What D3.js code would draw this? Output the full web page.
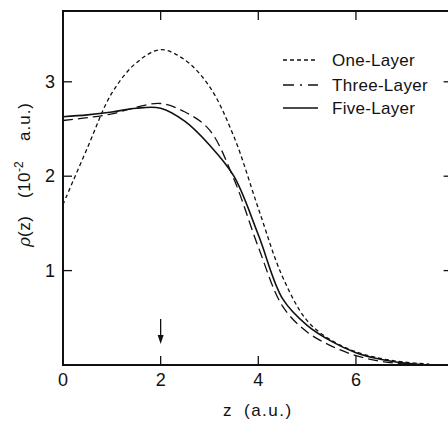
<!DOCTYPE html>
<html>
<head>
<meta charset="utf-8">
<script src="https://cdn.jsdelivr.net/npm/d3@7"></script>
<style>
  body { margin: 0; background: #fff; }
  text { font-family: "Liberation Sans", Arial, sans-serif; fill: #111; }
</style>
</head>
<body>
<svg></svg>
<script>
// values (z in a.u., rho in 1e-2 a.u.)
const zValues = [0, 0.5, 1, 1.5, 2, 2.5, 3, 3.5, 4, 4.5, 5, 5.5, 6, 6.5, 7, 7.5];
const oneLayer   = [1.70, 2.30, 2.88, 3.20, 3.34, 3.23, 2.95, 2.42, 1.66, 0.93, 0.47, 0.26, 0.14, 0.07, 0.03, 0.01];
const threeLayer = [2.59, 2.62, 2.66, 2.73, 2.77, 2.68, 2.49, 1.97, 1.25, 0.62, 0.35, 0.20, 0.10, 0.04, 0.01, 0.00];
const fiveLayer  = [2.63, 2.65, 2.68, 2.72, 2.72, 2.58, 2.33, 2.00, 1.38, 0.70, 0.42, 0.25, 0.13, 0.06, 0.02, 0.00];
const seriesNames = ["One-Layer", "Three-Layer", "Five-Layer"];
const xTicks = [0, 2, 4, 6];
const yTicks = [1, 2, 3];
const arrowZ = 2;

const width = 448, height = 422;
const svg = d3.select("svg").attr("width", width).attr("height", height);

const x = d3.scaleLinear().domain([0, 8]).range([63, 453.6]);
const y = d3.scaleLinear().domain([0, 3.75]).range([365, 11]);

const dashes = ["4,3", "11,6,2,6", null];
const series = [oneLayer, threeLayer, fiveLayer].map((vals, i) => ({
    name: seriesNames[i],
    dash: dashes[i],
    points: zValues.map((z, j) => [z, vals[j]])
}));

const line = d3.line()
    .x(d => x(d[0]))
    .y(d => y(d[1]))
    .curve(d3.curveCatmullRom);

// curves
svg.selectAll("path.curve")
    .data(series)
    .enter()
    .append("path")
    .attr("class", "curve")
    .attr("d", d => line(d.points))
    .attr("fill", "none")
    .attr("stroke", "#111")
    .attr("stroke-width", d => d.dash ? 1.3 : 1.6)
    .attr("stroke-dasharray", (d, i) => i === 1 ? "10,5" : d.dash);

// frame with inward ticks
const frame = svg.append("g")
    .attr("stroke", "#111")
    .attr("stroke-width", 2)
    .attr("fill", "none");

frame.append("path")
    .attr("d", `M${x(8)},${y(0)} H${x(0)} V${y(3.75)} H${x(8)} V${y(0)}`);

const tickLen = 9;
xTicks.filter(t => t > 0).forEach(t => {
    frame.append("line")
        .attr("x1", x(t)).attr("x2", x(t))
        .attr("y1", y(0)).attr("y2", y(0) - tickLen)
        .attr("stroke-width", 1.3);
    frame.append("line")
        .attr("x1", x(t)).attr("x2", x(t))
        .attr("y1", y(3.75)).attr("y2", y(3.75) + tickLen)
        .attr("stroke-width", 1.3);
});
yTicks.forEach(t => {
    frame.append("line")
        .attr("x1", x(0)).attr("x2", x(0) + tickLen)
        .attr("y1", y(t)).attr("y2", y(t))
        .attr("stroke-width", 1.3);
    frame.append("line")
        .attr("x1", x(8)).attr("x2", x(8) - tickLen - 1)
        .attr("y1", y(t)).attr("y2", y(t))
        .attr("stroke-width", 1.3);
});

// tick labels
svg.selectAll("text.xt")
    .data(xTicks)
    .enter()
    .append("text")
    .attr("class", "xt")
    .attr("x", d => x(d))
    .attr("y", 386)
    .attr("text-anchor", "middle")
    .style("font-size", "18px")
    .text(d => d);

svg.selectAll("text.yt")
    .data(yTicks)
    .enter()
    .append("text")
    .attr("class", "yt")
    .attr("x", 55)
    .attr("y", d => y(d) + 6)
    .attr("text-anchor", "end")
    .style("font-size", "18px")
    .text(d => d);

// arrow at z = 2
svg.append("line")
    .attr("x1", x(arrowZ)).attr("x2", x(arrowZ))
    .attr("y1", 319).attr("y2", 336)
    .attr("stroke", "#111")
    .attr("stroke-width", 1.3);
svg.append("path")
    .attr("d", `M${x(arrowZ) - 3},335 L${x(arrowZ) + 3},335 L${x(arrowZ)},344 Z`)
    .attr("fill", "#111");

// axis titles
const xl = svg.append("text")
    .attr("y", 416)
    .style("font-size", "17px");
xl.append("tspan").attr("x", 223).text("z");
xl.append("tspan").attr("x", 244).style("letter-spacing", "1.5px").text("(a.u.)");

const yl = svg.append("text")
    .attr("transform", "translate(30, 0) rotate(-90)")
    .style("font-size", "17px");
yl.append("tspan").attr("x", -247)
    .style("font-style", "italic").style("font-family", "'DejaVu Serif', serif")
    .text("ρ");
yl.append("tspan").style("letter-spacing", "0.5px").text("(z)");
yl.append("tspan").attr("x", -198).style("letter-spacing", "0.5px").text("(10");
yl.append("tspan").attr("dy", -7).style("font-size", "12px").text("-2");
yl.append("tspan").attr("x", -141).attr("dy", 7).style("letter-spacing", "1px").text("a.u.)");

// legend
const legend = svg.append("g").attr("transform", "translate(283, 0)");
const legendY = [60, 85, 108];
series.forEach((s, i) => {
    legend.append("line")
        .attr("x1", 0).attr("x2", 35)
        .attr("y1", legendY[i]).attr("y2", legendY[i])
        .attr("stroke", "#111")
        .attr("stroke-width", 1.3)
        .attr("stroke-dasharray", s.dash);
    legend.append("text")
        .attr("x", 49)
        .attr("y", legendY[i] + 6)
        .style("font-size", "17px")
        .style("letter-spacing", "0.3px")
        .text(s.name);
});
</script>
</body>
</html>
